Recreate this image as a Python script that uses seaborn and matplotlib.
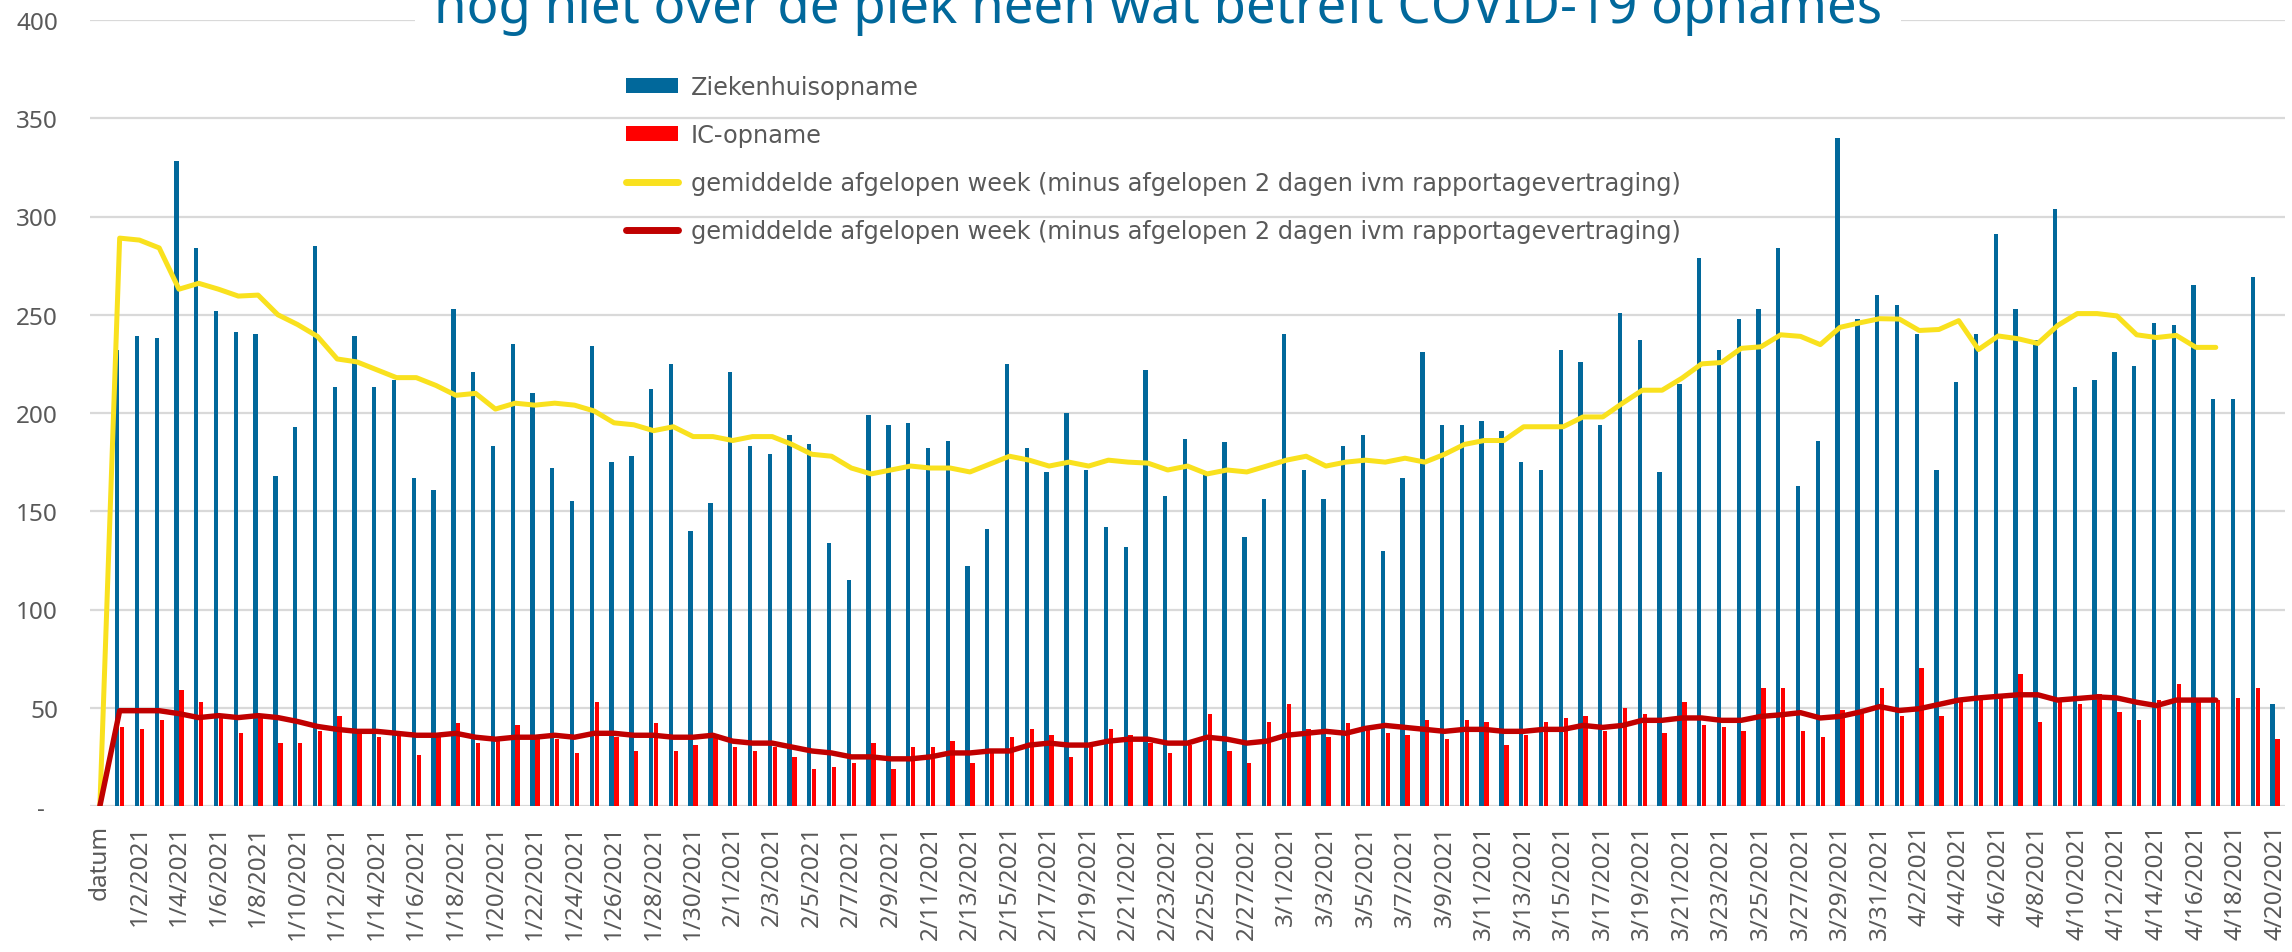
import numpy as np
import pandas as pd
import matplotlib
matplotlib.use("Agg")
import matplotlib.pyplot as plt
import seaborn as sns
from matplotlib.patches import Patch
from matplotlib.lines import Line2D
import datetime as dt

# ---------------- data ----------------
start = dt.date(2021, 1, 1)
dates = [f"{(start + dt.timedelta(days=i)).month}/{(start + dt.timedelta(days=i)).day}/2021" for i in range(110)]
categories = ["datum"] + dates

ziekenhuis = [
    232, 239, 238, 328, 284, 252, 241, 240, 168, 193, 285, 213, 239, 213, 217, 167, 161, 253, 221, 183,
    235, 210, 172, 155, 234, 175, 178, 212, 225, 140, 154,
    221, 183, 179, 189, 184, 134, 115, 199, 194, 195, 182, 186, 122, 141, 225, 182, 170, 200, 171, 142,
    132, 222, 158, 187, 169, 185, 137, 156,
    240, 171, 156, 183, 189, 130, 167, 231, 194, 194, 196, 191, 175, 171, 232, 226, 194, 251, 237, 170,
    215, 279, 232, 248, 253, 284, 163, 186, 340, 248, 260,
    255, 240, 171, 216, 240, 291, 253, 237, 304, 213, 217, 231, 224, 246, 245, 265, 207, 207, 269, 52,
]
ic = [
    40, 39, 44, 59, 53, 45, 37, 45, 32, 32, 38, 46, 38, 35, 36, 26, 36, 42, 32, 34,
    41, 35, 34, 27, 53, 35, 28, 42, 28, 31, 36,
    30, 28, 30, 25, 19, 20, 22, 32, 19, 30, 30, 33, 22, 28, 35, 39, 36, 25, 31, 39,
    36, 32, 27, 31, 47, 28, 22, 43,
    52, 39, 35, 42, 39, 37, 36, 44, 34, 44, 43, 31, 36, 43, 45, 46, 38, 50, 47, 37,
    53, 41, 40, 38, 60, 60, 38, 35, 49, 49, 60,
    46, 70, 46, 53, 55, 56, 67, 43, 54, 52, 57, 48, 44, 54, 62, 55, 54, 55, 60, 34,
]
gem_ziekenhuis = [
    0,
    289, 288, 284, 263, 266, 263, 259.5, 260, 250, 245, 239, 227.5, 226, 222, 218, 218, 214, 209, 210, 202,
    205, 204, 205, 204, 201, 195, 194, 191, 193, 188, 188,
    186, 188, 188, 184, 179, 178, 172, 169, 171, 173, 172, 172, 170, 174, 178, 176, 173, 175, 173, 176,
    175, 174.5, 171, 173, 169, 171, 170, 173,
    176, 178, 173, 175, 176, 175, 177, 175, 179, 184, 186, 186, 193, 193, 193, 198, 198, 205, 211.6, 211.6,
    217.7, 225, 225.7, 232.9, 233.7, 239.8, 239, 234.8, 243.6, 245.9, 248,
    247.8, 242, 242.5, 247, 232.3, 239.2, 237.8, 235.4, 244.5, 250.6, 250.6, 249.4, 239.8, 238.4, 239.5,
    233.4, 233.4,
]
gem_ic = [
    0,
    48.5, 48.5, 48.5, 47, 45, 46, 45, 46, 45, 43, 40.5, 39, 38, 38, 37, 36, 36, 37, 35, 34,
    35, 35, 36, 35, 37, 37, 36, 36, 35, 35, 36,
    33, 32, 32, 30, 28, 27, 25, 25, 24, 24, 25, 27, 27, 28, 28, 31, 32, 31, 31, 33,
    34, 34, 32, 32, 35, 34, 32, 33,
    36, 37, 38, 37, 39.5, 41, 40, 39, 38, 39, 39, 38, 38, 39, 39, 41, 40, 41, 43.6, 43.6,
    44.8, 44.8, 43.6, 43.6, 45.6, 46.4, 47.5, 44.8, 45.6, 47.8, 50.6,
    48.6, 49.5, 51.7, 53.9, 55, 55.8, 56.6, 56.6, 53.9, 54.7, 55.5, 55, 52.8, 51.1, 53.9, 53.9, 53.9,
]
series_names = ["Ziekenhuisopname", "IC-opname"]
line_label = "gemiddelde afgelopen week (minus afgelopen 2 dagen ivm rapportagevertraging)"
title = "nog niet over de piek heen wat betreft COVID-19 opnames"
yticks = [0, 50, 100, 150, 200, 250, 300, 350, 400]
ytick_labels = ["-  ", "50", "100", "150", "200", "250", "300", "350", "400"]

# ---------------- style ----------------
BLUE = "#01689B"
RED = "#FF0000"
YELLOW = "#F9E11E"
DARKRED = "#C00000"
GRAY_TXT = "#595959"
GRID = "#D9D9D9"

sns.set_theme(style="white")
plt.rcParams["font.family"] = ["Noto Sans", "DejaVu Sans"]

W, H = 2292, 953
fig = plt.figure(figsize=(W / 100, H / 100), dpi=100)
ax = fig.add_axes([90 / W, 146 / H, 2195 / W, 786 / H])

df = pd.DataFrame({
    "datum": dates * 2,
    "waarde": ziekenhuis + ic,
    "reeks": [series_names[0]] * len(dates) + [series_names[1]] * len(dates),
})

sns.barplot(data=df, x="datum", y="waarde", hue="reeks", order=categories,
            hue_order=series_names, palette=[BLUE, RED], width=0.5, gap=0.12,
            dodge=True, legend=False, ax=ax, linewidth=0, saturation=1, zorder=2)

xy = [categories.index("datum")] + [categories.index(d) for d in dates[:len(gem_ziekenhuis) - 1]]
sns.lineplot(x=xy, y=gem_ziekenhuis, color=YELLOW, linewidth=3.6, ax=ax, zorder=4,
             solid_joinstyle="round", solid_capstyle="round")
xr = [categories.index("datum")] + [categories.index(d) for d in dates[:len(gem_ic) - 1]]
sns.lineplot(x=xr, y=gem_ic, color=DARKRED, linewidth=3.9, ax=ax, zorder=5,
             solid_joinstyle="round", solid_capstyle="round")

ax.set_xlim(-0.5, len(categories) - 0.5)
ax.set_ylim(0, 400)
ax.set_yticks(yticks)
ax.set_yticklabels(ytick_labels)
ax.set_xticks(range(0, len(categories), 2))
ax.set_xticklabels(categories[::2], rotation=90)
ax.set_xlabel("")
ax.set_ylabel("")
ax.tick_params(axis="both", length=0, labelsize=17.5, labelcolor=GRAY_TXT)
ax.tick_params(axis="x", pad=13)
ax.tick_params(axis="y", pad=23)
for t in ax.get_xticklabels():
    t.set_va("top")
ax.yaxis.grid(True, color=GRID, linewidth=1.6)
ax.xaxis.grid(False)
ax.set_axisbelow(True)
for s in ax.spines.values():
    s.set_visible(False)

handles = [
    Patch(facecolor=BLUE, edgecolor="none", label=series_names[0]),
    Patch(facecolor=RED, edgecolor="none", label=series_names[1]),
    Line2D([0], [0], color=YELLOW, linewidth=5, solid_capstyle="round", label=line_label),
    Line2D([0], [0], color=DARKRED, linewidth=5, solid_capstyle="round", label=line_label),
]
leg = fig.legend(handles=handles, loc="upper left", bbox_to_anchor=(626 / W, 1 - 76 / H),
                 frameon=False, prop={"family": "DejaVu Sans", "size": 17.3},
                 labelcolor=GRAY_TXT, handlelength=2.15, handleheight=0.6,
                 handletextpad=0.55, labelspacing=1.0, borderpad=0, borderaxespad=0)

fig.text(1158 / W, 1 - 23 / H, title, ha="center", va="baseline", fontsize=38,
         color=BLUE, family="Noto Sans",
         bbox=dict(facecolor="white", edgecolor="none", boxstyle="square,pad=0.35"))

fig.savefig("out.png", dpi=100, facecolor="white")
